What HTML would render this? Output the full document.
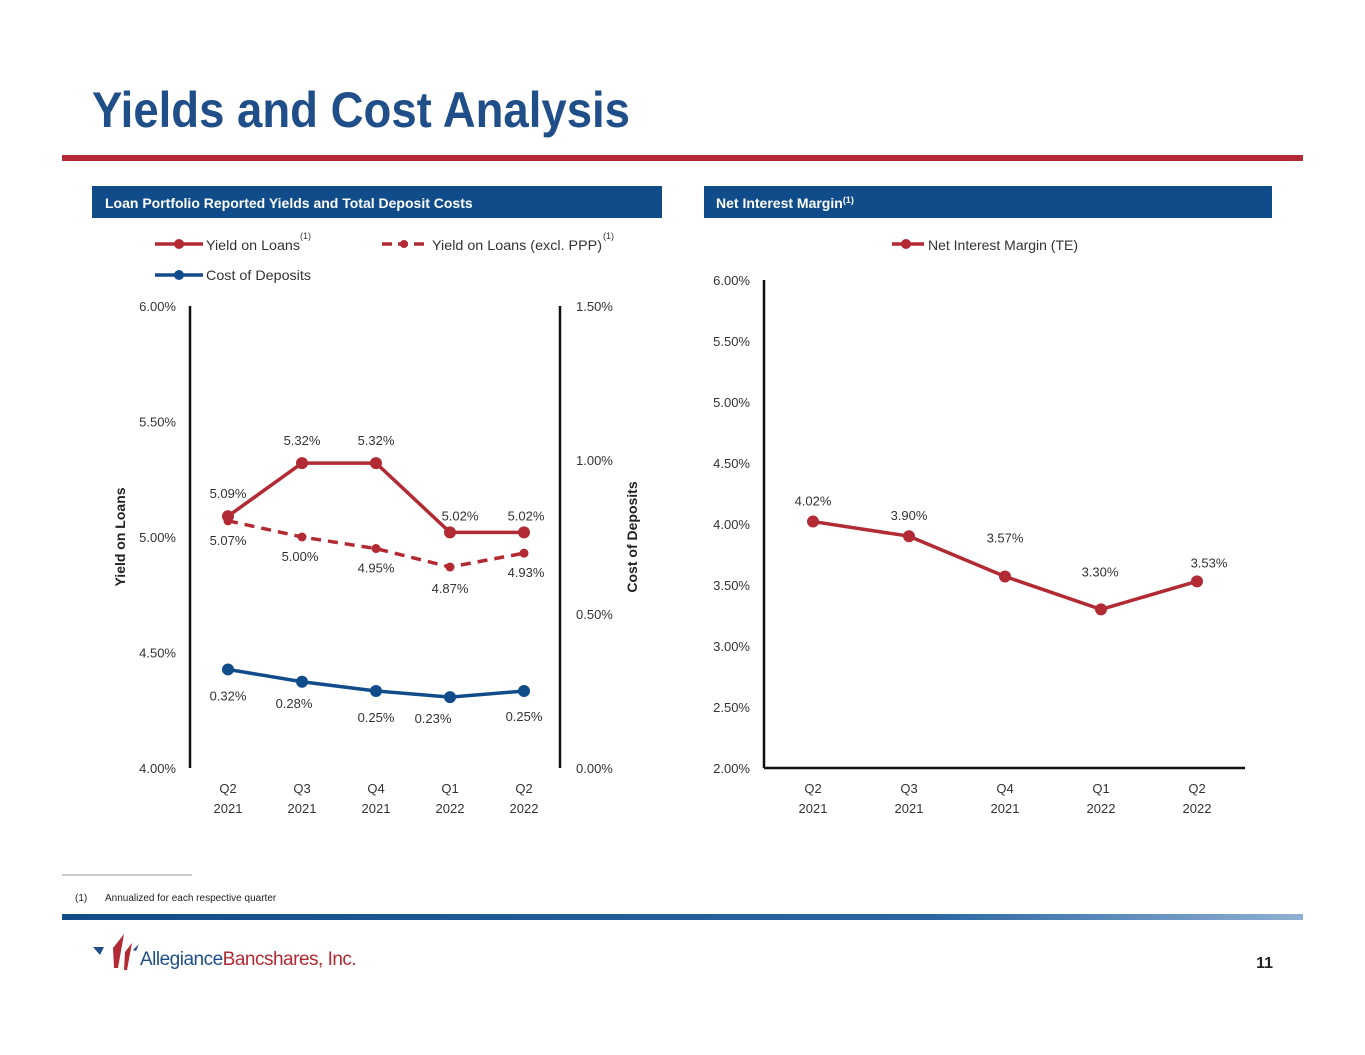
<!DOCTYPE html>
<html><head><meta charset="utf-8">
<style>
body{margin:0;background:#fff;font-family:"Liberation Sans",Arial,sans-serif;}
#wrap{position:relative;width:1365px;height:1055px;overflow:hidden;}
svg text{font-family:"Liberation Sans",Arial,sans-serif;}
</style></head>
<body>
<div id="wrap">
<svg id="s" width="1365" height="1055" viewBox="0 0 1365 1055" xmlns="http://www.w3.org/2000/svg">
  <text x="92" y="127" font-size="50" font-weight="bold" fill="#1f4e89" textLength="538" lengthAdjust="spacingAndGlyphs">Yields and Cost Analysis</text>
  <rect x="62" y="155" width="1241" height="6" fill="#b22a33"/>
  <rect x="92" y="186" width="570" height="32" fill="#104c8a"/>
  <text x="105" y="208" font-size="14" font-weight="bold" fill="#fff">Loan Portfolio Reported Yields and Total Deposit Costs</text>
  <rect x="704" y="186" width="568" height="32" fill="#104c8a"/>
  <text x="716" y="208" font-size="14" font-weight="bold" fill="#fff">Net Interest Margin<tspan font-size="9" dy="-5">(1)</tspan></text>
  <g>
    <line x1="155" y1="244" x2="203" y2="244" stroke="#b22a33" stroke-width="3.5"/><circle cx="179" cy="244" r="5" fill="#b22a33"/>
    <text x="206" y="250" font-size="14" fill="#333" textLength="94" lengthAdjust="spacingAndGlyphs">Yield on Loans</text><text x="300" y="239" font-size="9" fill="#333">(1)</text>
  </g>
  <g>
    <line x1="382" y1="244" x2="428" y2="244" stroke="#b22a33" stroke-width="3.5" stroke-dasharray="10,6"/><circle cx="404" cy="244" r="4" fill="#b22a33"/>
    <text x="432" y="250" font-size="14" fill="#333" textLength="170" lengthAdjust="spacingAndGlyphs">Yield on Loans (excl. PPP)</text><text x="603" y="239" font-size="9" fill="#333">(1)</text>
  </g>
  <g>
    <line x1="155" y1="275" x2="203" y2="275" stroke="#104c8a" stroke-width="3.5"/><circle cx="179" cy="275" r="5" fill="#104c8a"/>
    <text x="206" y="280" font-size="14" fill="#333" textLength="105" lengthAdjust="spacingAndGlyphs">Cost of Deposits</text>
  </g>
  <g>
    <line x1="892" y1="244" x2="924" y2="244" stroke="#b22a33" stroke-width="3.5"/><circle cx="906" cy="244" r="5" fill="#b22a33"/>
    <text x="928" y="250" font-size="14" fill="#333" textLength="150" lengthAdjust="spacingAndGlyphs">Net Interest Margin (TE)</text>
  </g>
  <line x1="190" y1="306" x2="190" y2="768" stroke="#111" stroke-width="2.5"/>
  <line x1="560" y1="306" x2="560" y2="768" stroke="#111" stroke-width="2.5"/>
  <text transform="translate(125,537) rotate(-90)" text-anchor="middle" font-size="14" font-weight="bold" fill="#222">Yield on Loans</text>
  <text transform="translate(637,537) rotate(-90)" text-anchor="middle" font-size="14" font-weight="bold" fill="#222">Cost of Deposits</text>
  <line x1="764" y1="280" x2="764" y2="768" stroke="#111" stroke-width="2.5"/>
  <line x1="764" y1="768" x2="1245" y2="768" stroke="#111" stroke-width="2.5"/>
  <g id="plots"></g>
  <line x1="62" y1="875" x2="192" y2="875" stroke="#999" stroke-width="1"/>
  <text x="75" y="901" font-size="10" fill="#222">(1)</text>
  <text x="105" y="901" font-size="10" fill="#222">Annualized for each respective quarter</text>
  <defs><linearGradient id="fg" x1="0" x2="1"><stop offset="0" stop-color="#104c8a"/><stop offset="0.7" stop-color="#2a66a3"/><stop offset="1" stop-color="#8fb0d3"/></linearGradient></defs>
  <rect x="62" y="914" width="1241" height="6" fill="url(#fg)"/>
  <g>
    <polygon points="93,947 104,947 100,955" fill="#1f4e89"/>
    <polygon points="113,948 124,934 118,968 114,968" fill="#b22a33"/>
    <polygon points="125,952 132,943 127,970 124,970" fill="#b22a33"/>
    <polygon points="133,950 139,944 136,951" fill="#1f4e89"/>
    <text x="140" y="965" font-size="19" fill="#1f4e89" letter-spacing="-0.5">Allegiance<tspan fill="#b22a33">Bancshares, Inc.</tspan></text>
  </g>
  <text x="1273" y="968" text-anchor="end" font-size="16" font-weight="bold" fill="#222">11</text>
</svg>
</div>
<script>
const quarters = ["Q2|2021","Q3|2021","Q4|2021","Q1|2022","Q2|2022"];
const yieldLoans = [5.09,5.32,5.32,5.02,5.02];
const yieldExclPPP = [5.07,5.00,4.95,4.87,4.93];
const costDeposits = [0.32,0.28,0.25,0.23,0.25];
const nimValues = [4.02,3.90,3.57,3.30,3.53];
const leftTicks = ["4.00%","4.50%","5.00%","5.50%","6.00%"];
const rightTicks = ["0.00%","0.50%","1.00%","1.50%"];
const nimTicks = ["2.00%","2.50%","3.00%","3.50%","4.00%","4.50%","5.00%","5.50%","6.00%"];

const NS="http://www.w3.org/2000/svg";
const g=document.getElementById('plots');
function mk(tag,attrs,parent){const e=document.createElementNS(NS,tag);for(const k in attrs)e.setAttribute(k,attrs[k]);(parent||g).appendChild(e);return e;}
function txt(x,y,s,anchor,name){const t=mk('text',{x:x,y:y,'font-size':13,fill:'#333','text-anchor':anchor||'middle'});t.textContent=s;


return t;}

const xL=i=>228+i*74;
const yL=v=>768-(v-4)/2*462;
const yR=v=>768-v/1.5*462;
const xN=i=>813+i*96;
const yN=v=>768-(v-2)/4*488;

leftTicks.forEach((s,i)=>txt(176,yL(4+i*0.5)+5,s,'end','left-y-tick'));
rightTicks.forEach((s,i)=>txt(576,yR(i*0.5)+5,s,'start','right-y-tick'));
nimTicks.forEach((s,i)=>txt(750,yN(2+i*0.5)+5,s,'end','nim-y-tick'));
quarters.forEach((q,i)=>{const p=q.split('|');
 txt(xL(i),793,p[0],'middle','left-x-tick');txt(xL(i),813,p[1],'middle','left-x-tick-year');
 txt(xN(i),793,p[0],'middle','nim-x-tick');txt(xN(i),813,p[1],'middle','nim-x-tick-year');});

function series(vals,xf,yf,color,dash,r,name,offs){
 const pts=vals.map((v,i)=>xf(i)+','+yf(v)).join(' ');
 const pl=mk('polyline',{points:pts,fill:'none',stroke:color,'stroke-width':3.5});
 if(dash)pl.setAttribute('stroke-dasharray',dash);
 
 
 vals.forEach((v,i)=>{const c=mk('circle',{cx:xf(i),cy:yf(v),r:r,fill:color});
  
  
  const o=offs[i];txt(xf(i)+o[0],yf(v)+o[1],v.toFixed(2)+'%','middle',name+'-label');});
}
series(yieldExclPPP,xL,yL,'#b22a33','10,7',4.5,'yield-excl-ppp',[[0,24],[-2,24],[0,24],[0,26],[2,24]]);
series(yieldLoans,xL,yL,'#b22a33',null,6,'yield-on-loans',[[0,-18],[0,-18],[0,-18],[10,-12],[2,-12]]);
series(costDeposits,xL,yR,'#104c8a',null,6,'cost-of-deposits',[[0,31],[-8,26],[0,31],[-17,26],[0,30]]);
series(nimValues,xN,yN,'#b22a33',null,6,'nim',[[0,-16],[0,-16],[0,-34],[-1,-33],[12,-14]]);
</script>
</body></html>
